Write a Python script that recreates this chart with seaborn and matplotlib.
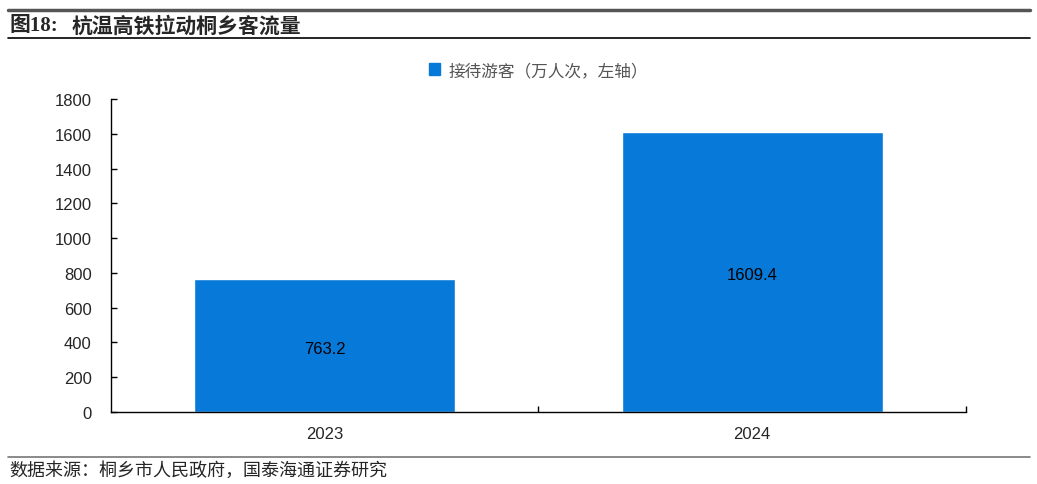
import matplotlib
matplotlib.use("Agg")
import matplotlib.pyplot as plt
import seaborn as sns
import pandas as pd
from matplotlib.patches import Patch
from matplotlib.lines import Line2D

years = ["2023", "2024"]
visitors = [763.2, 1609.4]
series_name = "接待游客（万人次，左轴）"
title_no = "图18:"
title = "杭温高铁拉动桐乡客流量"
source = "数据来源：桐乡市人民政府，国泰海通证券研究"

BAR = "#0779D8"

sns.set_theme(style="white")
plt.rcParams["font.family"] = ["Liberation Sans", "Noto Sans CJK SC", "DejaVu Sans"]

df = pd.DataFrame({"year": years, "visitors": visitors})

fig = plt.figure(figsize=(10.37, 4.85), dpi=100)
ax = fig.add_axes([0.107, 0.1485, 0.8245, 0.6453])

sns.barplot(data=df, x="year", y="visitors", color=BAR, width=0.61,
            saturation=1, ax=ax)

# value labels sit a little below the bar middle
for i, v in enumerate(visitors):
    ax.text(i, v / 2 - 15, f"{v:.1f}", ha="center", va="center", fontsize=12, color="black")

ax.set_ylim(0, 1800)
ax.set_yticks(range(0, 1801, 200))
ax.set_xlim(-0.5, 1.5)
ax.set_xlabel("")
ax.set_ylabel("")
for s in ["top", "right"]:
    ax.spines[s].set_visible(False)
for s in ["left", "bottom"]:
    ax.spines[s].set_color("black")
    ax.spines[s].set_linewidth(1.0)
ax.tick_params(axis="y", direction="in", length=4, width=1, color="black",
               labelsize=12, left=True, pad=14)
ax.tick_params(axis="x", which="major", length=0, labelsize=12, pad=10)
ax.set_xticks([0.5, 1.5], minor=True)
ax.tick_params(axis="x", which="minor", direction="in", length=4, width=1,
               color="black", bottom=True)

ax.legend(handles=[Patch(color=BAR)], labels=[series_name], loc="center",
          bbox_to_anchor=(0.5, 1.093), frameon=False, fontsize=12,
          labelcolor="#555555", handlelength=0.7, handleheight=0.7,
          handletextpad=0.5)

# header / footer rules and text
fig.add_artist(Line2D([0.008, 0.993], [1 - 11 / 485] * 2, color="#555555", lw=2.5))
fig.add_artist(Line2D([0.008, 0.993], [1 - 39 / 485] * 2, color="black", lw=1.2))
fig.add_artist(Line2D([0.008, 0.993], [1 - 458 / 485] * 2, color="#777777", lw=1.2))
cjk = ["Noto Sans CJK SC", "DejaVu Sans"]
fig.text(0.009, 1 - 26 / 485, title_no, fontsize=15, fontweight="bold",
         va="center", ha="left", family=["Liberation Serif", "Noto Sans CJK SC"])
fig.text(72 / 1037, 1 - 26 / 485, title, fontsize=15, fontweight="bold",
         va="center", ha="left", family=cjk)
fig.text(0.009, 1 - 471 / 485, source, fontsize=13, va="center", ha="left",
         family=cjk)

fig.savefig("out.png", dpi=100)
